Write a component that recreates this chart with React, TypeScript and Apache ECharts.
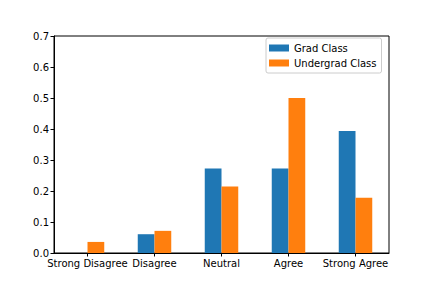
import React, { useEffect, useRef } from "react";
import * as echarts from "echarts";

const categories = ["Strong Disagree", "Disagree", "Neutral", "Agree", "Strong Agree"];
const gradClass = [0, 2 / 33, 9 / 33, 9 / 33, 13 / 33];
const undergradClass = [1 / 28, 2 / 28, 6 / 28, 14 / 28, 5 / 28];
const seriesNames = ["Grad Class", "Undergrad Class"];

const FONT = "DejaVu Sans";

export default function App() {
  const ref = useRef<HTMLDivElement>(null);
  useEffect(() => {
    if (!ref.current) return;
    const chart = echarts.init(ref.current, null, { renderer: "svg" });
    chart.setOption({
      animation: false,
      backgroundColor: "#ffffff",
      textStyle: { fontFamily: FONT },
      grid: {
        left: 54,
        right: 43,
        top: 36,
        bottom: 35,
        show: true,
        borderColor: "#000",
        borderWidth: 1,
        backgroundColor: "transparent",
      },
      legend: {
        orient: "vertical",
        left: 266,
        top: 38,
        data: seriesNames,
        icon: "rect",
        itemWidth: 20,
        itemHeight: 7,
        itemGap: 3,
        itemTextGap: 8,
        padding: [4, 5, 4, 3],
        borderColor: "#cccccc",
        borderWidth: 1,
        borderRadius: 2,
        backgroundColor: "rgba(255,255,255,0.8)",
        textStyle: { fontFamily: FONT, fontSize: 10, color: "#000", lineHeight: 12 },
      },
      xAxis: {
        type: "category",
        data: categories,
        boundaryGap: true,
        axisLine: { show: true, lineStyle: { color: "#000", width: 1 } },
        axisTick: { show: true, alignWithLabel: true, length: 3.5, lineStyle: { color: "#000" } },
        axisLabel: {
          interval: 0,
          margin: 5,
          color: "#000",
          fontFamily: FONT,
          fontSize: 10,
        },
        splitLine: { show: false },
      },
      yAxis: {
        type: "value",
        min: 0,
        max: 0.7,
        interval: 0.1,
        axisLine: { show: true, lineStyle: { color: "#000", width: 1 } },
        axisTick: { show: true, length: 3.5, lineStyle: { color: "#000" } },
        axisLabel: {
          margin: 5,
          color: "#000",
          fontFamily: FONT,
          fontSize: 10,
          formatter: (v: number) => v.toFixed(1),
        },
        splitLine: { show: false },
      },
      series: [
        {
          name: seriesNames[0],
          type: "bar",
          data: gradClass,
          itemStyle: { color: "#1f77b4" },
          barGap: "0%",
          barCategoryGap: "50%",
        },
        {
          name: seriesNames[1],
          type: "bar",
          data: undergradClass,
          itemStyle: { color: "#ff7f0e" },
          barGap: "0%",
          barCategoryGap: "50%",
        },
      ],
    });
    return () => chart.dispose();
  }, []);
  return <div ref={ref} style={{ width: 432, height: 288, position: "absolute", left: 0, top: 0 }} />;
}
